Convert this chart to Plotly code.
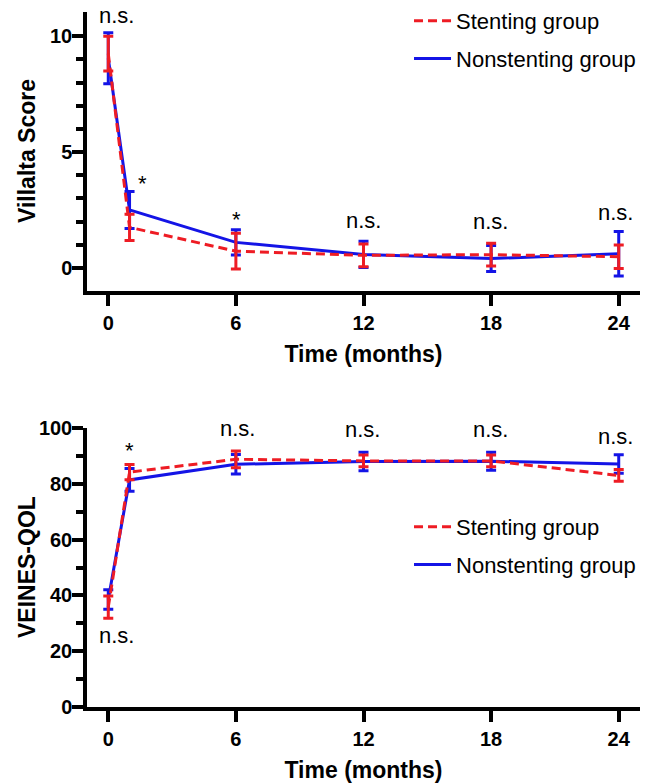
import plotly.graph_objects as go

# ---------------- data ----------------
months = [0, 1, 6, 12, 18, 24]

villalta_stent = [9.25, 1.75, 0.72, 0.54, 0.57, 0.48]
villalta_stent_err = [0.75, 0.57, 0.77, 0.49, 0.49, 0.51]
villalta_non = [9.05, 2.50, 1.10, 0.58, 0.40, 0.61]
villalta_non_err = [1.10, 0.80, 0.55, 0.57, 0.56, 0.96]

veines_stent = [35.8, 84.2, 88.8, 88.2, 88.2, 83.0]
veines_stent_err = [4.0, 2.7, 3.0, 2.1, 2.1, 2.1]
veines_non = [38.5, 81.4, 87.0, 88.0, 88.1, 87.1]
veines_non_err = [3.5, 4.1, 3.5, 3.3, 3.2, 3.3]

sig_top_text = ["n.s.", "*", "*", "n.s.", "n.s.", "n.s."]
sig_top_x = [0.38, 1.62, 6.02, 11.98, 17.98, 23.86]
sig_top_y = [10.9, 3.65, 2.09, 2.05, 1.99, 2.40]

sig_bot_text = ["n.s.", "*", "n.s.", "n.s.", "n.s.", "n.s."]
sig_bot_x = [0.38, 0.99, 6.07, 11.95, 17.98, 23.86]
sig_bot_y = [25.8, 92.0, 100.0, 99.6, 99.6, 96.8]

x_ticks = [0, 6, 12, 18, 24]
top_y_ticks = [0, 5, 10]
top_y_minor = [1, 2, 3, 4, 6, 7, 8, 9]
bot_y_ticks = [0, 20, 40, 60, 80, 100]
bot_y_minor = [10, 30, 50, 70, 90]

STENT_NAME = "Stenting group"
NON_NAME = "Nonstenting group"
TOP_Y_TITLE = "Villalta Score"
BOT_Y_TITLE = "VEINES-QOL"
X_TITLE = "Time (months)"

# ---------------- style ----------------
RED = "#ee1c24"
BLUE = "#1414e6"
FONT = "Arial, Liberation Sans, Helvetica, sans-serif"

fig = go.Figure()


def add_pair(y_non, e_non, y_st, e_st, xa, ya, legend):
    fig.add_trace(go.Scatter(
        x=months, y=y_non, mode="lines", name=NON_NAME,
        line=dict(color=BLUE, width=3),
        error_y=dict(type="data", array=e_non, visible=True, color=BLUE,
                     thickness=3, width=5),
        xaxis=xa, yaxis=ya, legend=legend, legendrank=2,
        legendgroup=legend + "non", cliponaxis=False,
    ))
    fig.add_trace(go.Scatter(
        x=months, y=y_st, mode="lines", name=STENT_NAME,
        line=dict(color=RED, width=3, dash="9px,5px"),
        error_y=dict(type="data", array=e_st, visible=True, color=RED,
                     thickness=3, width=5),
        xaxis=xa, yaxis=ya, legend=legend, legendrank=1,
        legendgroup=legend + "st", cliponaxis=False,
    ))


add_pair(villalta_non, villalta_non_err, villalta_stent, villalta_stent_err,
         "x", "y", "legend")
add_pair(veines_non, veines_non_err, veines_stent, veines_stent_err,
         "x2", "y2", "legend2")

for t, xv, yv in zip(sig_top_text, sig_top_x, sig_top_y):
    fig.add_annotation(x=xv, y=yv, xref="x", yref="y", text=t, showarrow=False,
                       font=dict(family=FONT, size=22, color="black"),
                       xanchor="center", yanchor="middle")
for t, xv, yv in zip(sig_bot_text, sig_bot_x, sig_bot_y):
    fig.add_annotation(x=xv, y=yv, xref="x2", yref="y2", text=t, showarrow=False,
                       font=dict(family=FONT, size=22, color="black"),
                       xanchor="center", yanchor="middle")

title_font = dict(family=FONT, size=23, color="black", weight="bold")

# y-axis titles (rotated), centred on each panel
fig.add_annotation(x=-0.1094, y=0.7857, xref="paper", yref="paper",
                   text=TOP_Y_TITLE, textangle=-90, showarrow=False,
                   font=title_font, xanchor="center", yanchor="middle")
fig.add_annotation(x=-0.1094, y=0.1973, xref="paper", yref="paper",
                   text=BOT_Y_TITLE, textangle=-90, showarrow=False,
                   font=title_font, xanchor="center", yanchor="middle")

axis_common = dict(
    showline=True, linecolor="black", linewidth=3.5, mirror=False,
    showgrid=False, zeroline=False, ticks="outside", ticklen=11, tickwidth=3.5,
    tickcolor="black", automargin=False,
    tickfont=dict(family=FONT, size=20, color="black", weight="bold"),
)

fig.update_layout(
    width=653, height=784,
    margin=dict(l=87, r=13, t=0, b=77),
    paper_bgcolor="white", plot_bgcolor="white",
    font=dict(family=FONT, color="black"),
    xaxis=dict(**axis_common, domain=[0, 1], anchor="y", range=[-1, 25],
               tickvals=x_ticks,
               title=dict(text=X_TITLE, font=title_font, standoff=14)),
    yaxis=dict(**axis_common, domain=[0.5884, 0.9830], anchor="x",
               range=[-1, 11.05],
               tickvals=top_y_ticks, ticklabelstandoff=-4,
               minor=dict(tickvals=top_y_minor, ticks="outside", ticklen=7,
                          tickwidth=3.5, tickcolor="black")),
    xaxis2=dict(**axis_common, domain=[0, 1], anchor="y2", range=[-1, 25],
                tickvals=x_ticks,
                title=dict(text=X_TITLE, font=title_font, standoff=14)),
    yaxis2=dict(**axis_common, domain=[0, 0.3946], anchor="x2", range=[0, 100],
                tickvals=bot_y_ticks, ticklabelstandoff=-4,
                minor=dict(tickvals=bot_y_minor, ticks="outside", ticklen=7,
                           tickwidth=3.5, tickcolor="black")),
    legend=dict(x=0.5823, y=1.0, xanchor="left", yanchor="top",
                bgcolor="rgba(0,0,0,0)", borderwidth=0, tracegroupgap=6,
                font=dict(family=FONT, size=22, color="black"),
                itemwidth=37),
    legend2=dict(x=0.5823, y=0.2843, xanchor="left", yanchor="top",
                 bgcolor="rgba(0,0,0,0)", borderwidth=0, tracegroupgap=6,
                 font=dict(family=FONT, size=22, color="black"),
                 itemwidth=37),
    showlegend=True,
)

fig.write_html("out.html",
               config={"displayModeBar": False},
               post_script="document.body.style.margin='0';")
